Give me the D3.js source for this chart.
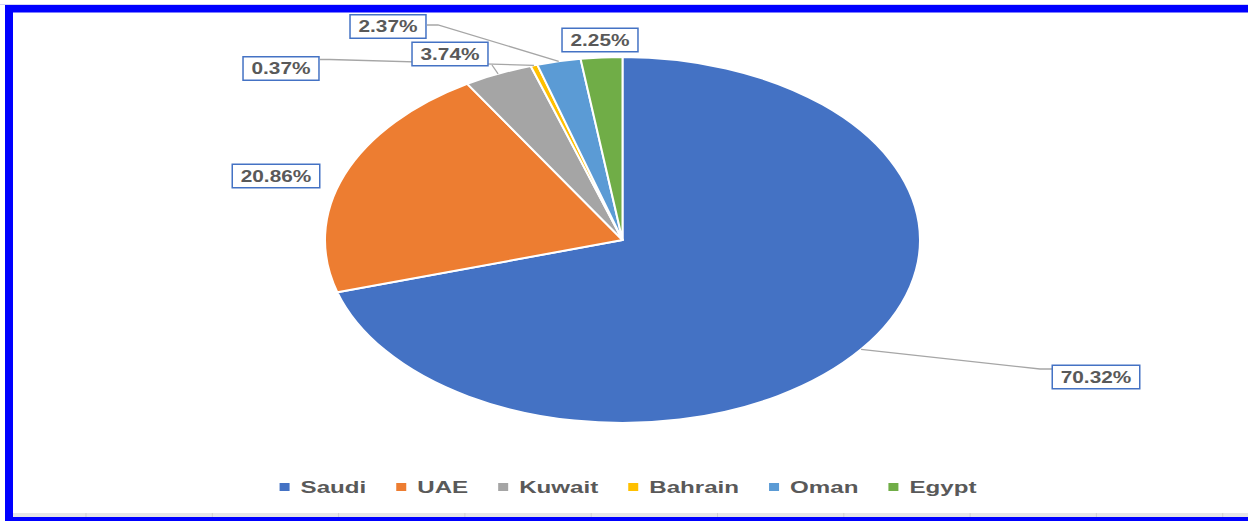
<!DOCTYPE html>
<html>
<head>
<meta charset="utf-8">
<script src="https://cdn.jsdelivr.net/npm/d3@7"></script>
<style>
  html, body { margin: 0; padding: 0; background: #fff; }
  svg { display: block; }
</style>
</head>
<body>
<svg id="chart" width="1248" height="521"></svg>
<script>
// ---- data ----
const categories = ["Saudi", "UAE", "Kuwait", "Bahrain", "Oman", "Egypt"];
const values = [70.32, 20.86, 3.74, 0.37, 2.37, 2.25];
const colors = ["#4472C4", "#ED7D31", "#A5A5A5", "#FFC000", "#5B9BD5", "#70AD47"];

// ---- layout (annotation placement, not data) ----
const labelCenters = [[1096, 377], [276, 176], [450, 54], [281, 68.5], [388, 26.5], [600, 40]];
const labelLeaders = [
  [[1052, 369], [1040, 369]],
  null,
  [[492, 65]],
  [[320, 59.5], [330, 59.5]],
  [[427, 25], [438, 25]],
  null
];

const W = 1248, H = 521;
const svg = d3.select("#chart");
const textColor = "#595959";
const font = "'Liberation Sans', Arial, sans-serif";

// frame + sheet gridlines
svg.append("rect").attr("x", 0).attr("y", 4).attr("width", W).attr("height", 1).attr("fill", "#d4d4f4");
svg.append("rect").attr("x", 13).attr("y", 513).attr("width", W - 13).attr("height", 4).attr("fill", "#e6e6e6");
const gridX = d3.range(86, W, 126.3);
svg.selectAll("line.grid").data(gridX).join("line")
  .attr("x1", d => d).attr("x2", d => d).attr("y1", 513).attr("y2", 517)
  .attr("stroke", "#cfcfcf").attr("stroke-width", 1);
svg.append("rect").attr("x", 5).attr("y", 5).attr("width", W - 5).attr("height", 7.5).attr("fill", "#0000FF");
svg.append("rect").attr("x", 5).attr("y", 5).attr("width", 8).attr("height", H - 5).attr("fill", "#0000FF");
svg.append("rect").attr("x", 5).attr("y", 517).attr("width", W - 5).attr("height", 4).attr("fill", "#0000FF");

// pie (stretched horizontally like the reference)
const cx = 622.5, cy = 240, ry = 183, rx = 297.5;
const pie = d3.pie().sort(null).value(d => d)(values);
const arc = d3.arc().innerRadius(0).outerRadius(ry);

const pg = svg.append("g").attr("transform", `translate(${cx},${cy}) scale(${rx / ry},1)`);
pg.selectAll("path").data(pie).join("path")
  .attr("d", arc)
  .attr("fill", (d, i) => colors[i])
  .attr("stroke", "#fff")
  .attr("stroke-width", 2)
  .attr("vector-effect", "non-scaling-stroke")
  .attr("stroke-linejoin", "round");

function edgePoint(d) {
  const a = (d.startAngle + d.endAngle) / 2;
  return [cx + rx * Math.sin(a), cy - ry * Math.cos(a)];
}

// leader lines
pie.forEach((d, i) => {
  const l = labelLeaders[i];
  if (!l) return;
  const pts = l.concat([edgePoint(d)]);
  svg.append("path")
    .attr("d", d3.line()(pts))
    .attr("fill", "none")
    .attr("stroke", "#a6a6a6")
    .attr("stroke-width", 1.3);
});

// data labels
const fmt = d3.format(".2f");
const labelScale = 1.3;
pie.forEach((d, i) => {
  const [lx, ly] = labelCenters[i];
  const g = svg.append("g").attr("transform", `translate(${lx},${ly})`);
  const rect = g.append("rect");
  const t = g.append("text")
    .attr("transform", `scale(${labelScale},1)`)
    .attr("text-anchor", "middle")
    .attr("dy", "0.36em")
    .attr("font-family", font)
    .attr("font-weight", "bold")
    .attr("font-size", 16)
    .attr("fill", textColor)
    .text(fmt(values[i]) + "%");
  const w = t.node().getComputedTextLength() * labelScale + 17;
  const h = 23.5;
  rect.attr("x", -w / 2).attr("y", -h / 2).attr("width", w).attr("height", h)
    .attr("fill", "#fff").attr("stroke", "#4472C4").attr("stroke-width", 1.5);
});

// legend
const legScale = 1.42;
const legY = 487;
const lg = svg.append("g");
const items = categories.map((c, i) => {
  const g = lg.append("g");
  g.append("rect").attr("x", 0).attr("y", legY - 4).attr("width", 10).attr("height", 8).attr("fill", colors[i]);
  const t = g.append("text")
    .attr("transform", `translate(21,${legY}) scale(${legScale},1)`)
    .attr("dy", "0.35em")
    .attr("font-family", font)
    .attr("font-weight", "bold")
    .attr("font-size", 17)
    .attr("fill", textColor)
    .text(c);
  return { g, w: 21 + t.node().getComputedTextLength() * legScale };
});
const gap = 30;
const total = d3.sum(items, d => d.w) + gap * (items.length - 1);
let x0 = 628 - total / 2;
items.forEach(it => { it.g.attr("transform", `translate(${x0},0)`); x0 += it.w + gap; });
</script>
</body>
</html>
